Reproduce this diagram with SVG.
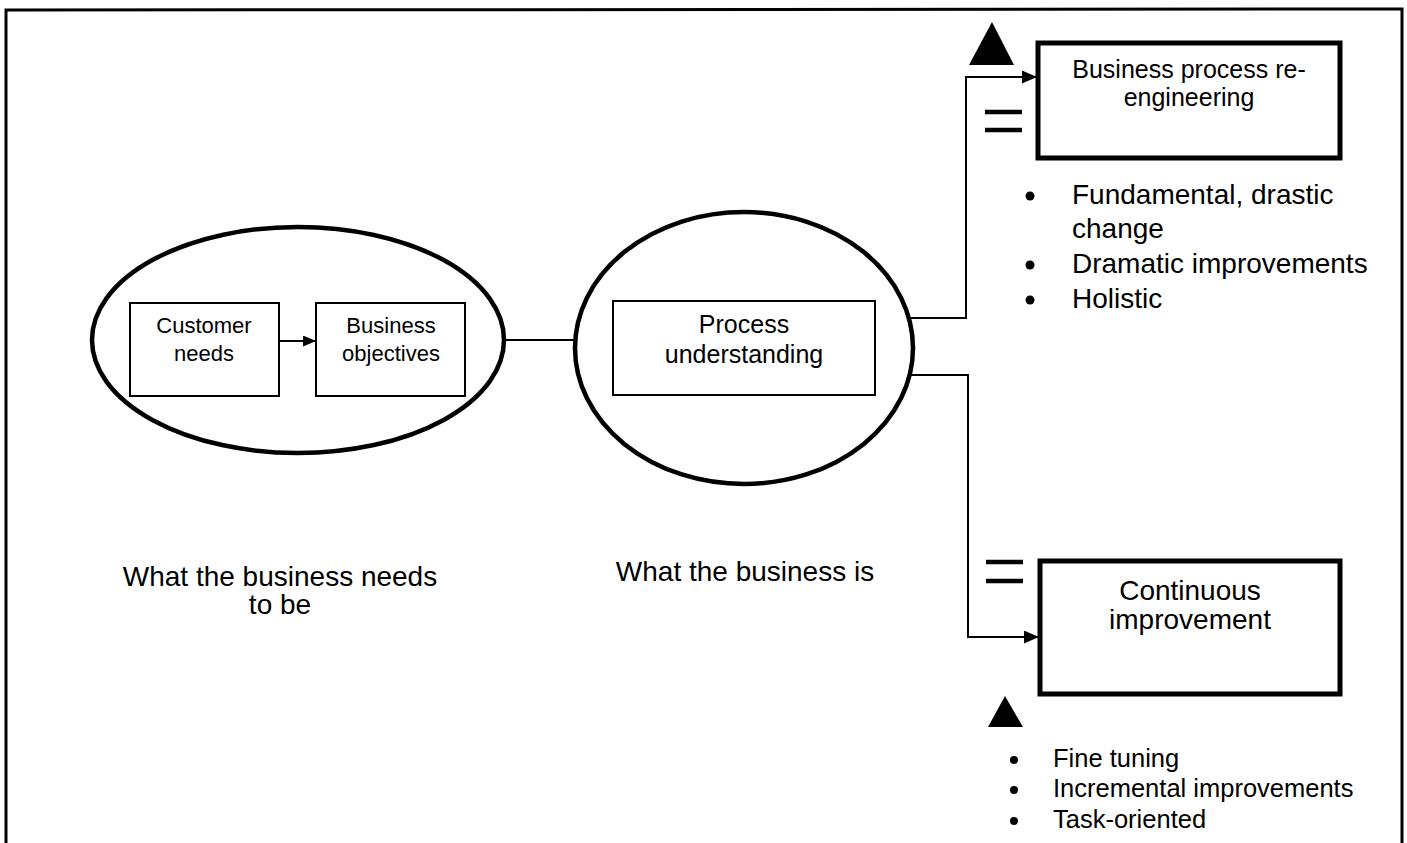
<svg xmlns="http://www.w3.org/2000/svg" width="1407" height="843" viewBox="0 0 1407 843">
<defs>
<style>
text{font-family:"Liberation Sans",Arial,sans-serif;fill:#000}
.thin{fill:#fff;stroke:#000;stroke-width:2}
.thick{fill:#fff;stroke:#000;stroke-width:5}
.oval{fill:none;stroke:#000;stroke-width:4.5}
.conn{fill:none;stroke:#000;stroke-width:2}
.bar{stroke:#000;stroke-width:4.5}
</style>
<marker id="ah" markerWidth="15" markerHeight="13" refX="15" refY="6.5" orient="auto" markerUnits="userSpaceOnUse">
<path d="M0,0 L15,6.5 L0,13 Z" fill="#000"/>
</marker>
<marker id="ahs" markerWidth="13" markerHeight="11" refX="13" refY="5.5" orient="auto" markerUnits="userSpaceOnUse">
<path d="M0,0 L13,5.5 L0,11 Z" fill="#000"/>
</marker>
</defs>
<rect width="1407" height="843" fill="#fff"/>
<path d="M6,850 L6,10 L1402,9 L1402,850" fill="none" stroke="#000" stroke-width="3"/>

<g id="connectors">
<line class="conn" x1="279" y1="341" x2="316" y2="341" marker-end="url(#ahs)"/>
<line class="conn" x1="503" y1="340" x2="576" y2="340"/>
<polyline class="conn" points="911,318 966,318 966,77 1037,77" marker-end="url(#ah)"/>
<polyline class="conn" points="911,375 968,375 968,637 1039,637" marker-end="url(#ah)"/>
</g>

<g id="ellipse-needs">
<ellipse class="oval" cx="298" cy="340" rx="206" ry="113"/>
</g>
<g id="customer-needs">
<rect class="thin" x="130" y="303" width="149" height="93"/>
<text x="204" y="333" font-size="22" text-anchor="middle">Customer</text>
<text x="204" y="361" font-size="22" text-anchor="middle">needs</text>
</g>
<g id="business-objectives">
<rect class="thin" x="316" y="303" width="149" height="93"/>
<text x="391" y="333" font-size="22" text-anchor="middle">Business</text>
<text x="391" y="361" font-size="22" text-anchor="middle">objectives</text>
</g>

<g id="circle-is">
<ellipse class="oval" cx="744" cy="348" rx="169" ry="136"/>
</g>
<g id="process-understanding">
<rect class="thin" x="613" y="301" width="262" height="94"/>
<text x="744" y="333" font-size="25" text-anchor="middle">Process</text>
<text x="744" y="363" font-size="25" text-anchor="middle">understanding</text>
</g>

<g id="label-needs">
<text x="280" y="586" font-size="28" text-anchor="middle">What the business needs</text>
<text x="280" y="614" font-size="28" text-anchor="middle">to be</text>
</g>
<g id="label-is">
<text x="745" y="581" font-size="28" text-anchor="middle">What the business is</text>
</g>

<g id="bpr">
<rect class="thick" x="1038" y="43" width="302" height="115"/>
<text x="1189" y="78" font-size="25" text-anchor="middle">Business process re-</text>
<text x="1189" y="106" font-size="25" text-anchor="middle">engineering</text>
</g>
<g id="bpr-symbols">
<polygon points="992,22 1014,65 969,65" fill="#000"/>
<line class="bar" x1="985" y1="112" x2="1022" y2="112"/>
<line class="bar" x1="985" y1="130" x2="1022" y2="130"/>
</g>
<g id="bpr-bullets">
<circle cx="1030" cy="196" r="4.5"/>
<text x="1072" y="204" font-size="28">Fundamental, drastic</text>
<text x="1072" y="238" font-size="28">change</text>
<circle cx="1030" cy="265" r="4.5"/>
<text x="1072" y="273" font-size="28">Dramatic improvements</text>
<circle cx="1030" cy="300" r="4.5"/>
<text x="1072" y="308" font-size="28">Holistic</text>
</g>

<g id="continuous">
<rect class="thick" x="1040" y="561" width="300" height="133"/>
<text x="1190" y="600" font-size="28" text-anchor="middle">Continuous</text>
<text x="1190" y="629" font-size="28" text-anchor="middle">improvement</text>
</g>
<g id="ci-symbols">
<line class="bar" x1="986" y1="562" x2="1023" y2="562"/>
<line class="bar" x1="986" y1="581" x2="1023" y2="581"/>
<polygon points="1005,696 1023,727 988,727" fill="#000"/>
</g>
<g id="ci-bullets">
<circle cx="1014" cy="760" r="4"/>
<text x="1053" y="767" font-size="25.5">Fine tuning</text>
<circle cx="1014" cy="790" r="4"/>
<text x="1053" y="797" font-size="25.5">Incremental improvements</text>
<circle cx="1014" cy="821" r="4"/>
<text x="1053" y="828" font-size="25.5">Task-oriented</text>
</g>
</svg>
